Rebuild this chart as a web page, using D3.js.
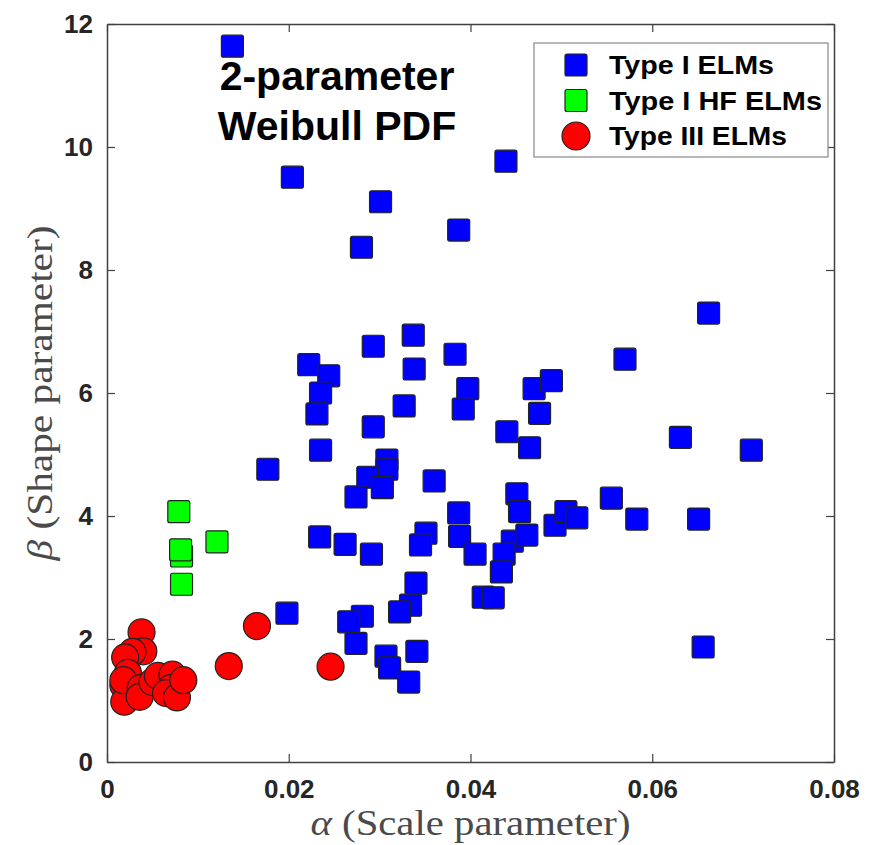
<!DOCTYPE html>
<html>
<head>
<meta charset="utf-8">
<script src="https://cdn.jsdelivr.net/npm/d3@7"></script>
<style>
  body { margin: 0; background: #fff; }
  svg { display: block; }
</style>
</head>
<body>
<svg id="chart"></svg>
<script>
// Type I ELMs
const typeIAlpha = [0.0138, 0.0204, 0.0301, 0.0280, 0.0439, 0.0387, 0.0662, 0.0337, 0.0222, 0.0293,
  0.0383, 0.0244, 0.0235, 0.0338, 0.0397, 0.0231, 0.0392, 0.0327, 0.0293, 0.0235,
  0.0177, 0.0440, 0.0470, 0.0489, 0.0476, 0.0465, 0.0570, 0.0631, 0.0709, 0.0308,
  0.0308, 0.0287, 0.0303, 0.0274, 0.0360, 0.0451, 0.0454, 0.0387, 0.0388, 0.0405,
  0.0351, 0.0345, 0.0446, 0.0437, 0.0462, 0.0434, 0.0234, 0.0262, 0.0291, 0.0340,
  0.0334, 0.0322, 0.0414, 0.0425, 0.0198, 0.0281, 0.0266, 0.0274, 0.0307, 0.0311,
  0.0341, 0.0332, 0.0656, 0.0493, 0.0505, 0.0517, 0.0555, 0.0583, 0.0651];
const typeIBeta = [11.64, 9.51, 9.11, 8.37, 9.77, 8.65, 7.30, 6.94, 6.46, 6.76,
  6.63, 6.28, 6.00, 6.39, 6.07, 5.66, 5.74, 5.79, 5.45, 5.07,
  4.76, 5.37, 6.07, 6.20, 5.67, 5.11, 6.55, 5.28, 5.07, 4.91,
  4.76, 4.63, 4.46, 4.31, 4.57, 4.36, 4.07, 4.05, 3.67, 3.38,
  3.72, 3.53, 3.59, 3.38, 3.69, 3.09, 3.66, 3.54, 3.38, 2.91,
  2.55, 2.44, 2.68, 2.67, 2.42, 2.37, 2.28, 1.93, 1.72, 1.53,
  1.80, 1.30, 1.87, 3.85, 4.07, 3.97, 4.29, 3.95, 3.95];

// Type I HF ELMs
const typeIHFAlpha = [0.0079, 0.0082, 0.0081, 0.0121, 0.0082];
const typeIHFBeta = [4.07, 3.35, 3.45, 3.58, 2.89];

// Type III ELMs
const typeIIIAlpha = [0.0165, 0.0134, 0.0246, 0.0038, 0.0040, 0.0028, 0.0020, 0.0023, 0.0018, 0.0019,
  0.0018, 0.0037, 0.0036, 0.0050, 0.0056, 0.0072, 0.0070, 0.0065, 0.0077, 0.0084];
const typeIIIBeta = [2.21, 1.56, 1.55, 2.11, 1.80, 1.79, 1.70, 1.45, 1.25, 0.98,
  1.33, 1.20, 1.06, 1.30, 1.40, 1.42, 1.20, 1.12, 1.05, 1.33];

const xTicks = [0, 0.02, 0.04, 0.06, 0.08];
const yTicks = [0, 2, 4, 6, 8, 10, 12];
const seriesNames = ["Type I ELMs", "Type I HF ELMs", "Type III ELMs"];

const width = 873, height = 845;
const margin = {top: 24, right: 39, bottom: 83, left: 107};

const svg = d3.select("#chart")
  .attr("width", width)
  .attr("height", height);

svg.append("rect").attr("width", width).attr("height", height).attr("fill", "#fff");

const x = d3.scaleLinear().domain([0, 0.08]).range([margin.left, width - margin.right]);
const y = d3.scaleLinear().domain([0, 12]).range([height - margin.bottom, margin.top]);

const axisColor = "#404040";
const tickFont = "'Liberation Sans', Arial, sans-serif";

// axes, MATLAB style: inward ticks, box on
const gx = svg.append("g")
  .attr("transform", `translate(0,${y(0)})`)
  .call(d3.axisBottom(x).tickValues(xTicks).tickSizeInner(-8).tickSizeOuter(0).tickPadding(18)
    .tickFormat(d => d === 0 ? "0" : d3.format(".2f")(d)));
const gxTop = svg.append("g")
  .attr("transform", `translate(0,${y(12)})`)
  .call(d3.axisTop(x).tickValues(xTicks).tickSizeInner(-8).tickSizeOuter(0).tickFormat(""));
const gy = svg.append("g")
  .attr("transform", `translate(${x(0)},0)`)
  .call(d3.axisLeft(y).tickValues(yTicks).tickSizeInner(-8).tickSizeOuter(0).tickPadding(14));
const gyRight = svg.append("g")
  .attr("transform", `translate(${x(0.08)},0)`)
  .call(d3.axisRight(y).tickValues(yTicks).tickSizeInner(-8).tickSizeOuter(0).tickFormat(""));

[gx, gxTop, gy, gyRight].forEach(g => {
  g.select(".domain").attr("stroke", axisColor).attr("stroke-width", 1.5);
  g.selectAll(".tick line").attr("stroke", axisColor).attr("stroke-width", 1.2);
  g.selectAll(".tick text")
    .attr("fill", "#262626")
    .style("font-family", tickFont)
    .style("font-weight", "bold")
    .style("font-size", "26px");
});
gx.selectAll(".tick text").attr("dy", "0.71em");

// axis labels
svg.append("text")
  .attr("x", (x(0) + x(0.08)) / 2)
  .attr("y", 835)
  .attr("text-anchor", "middle")
  .attr("fill", "#4a4a4a")
  .attr("textLength", 320)
  .attr("lengthAdjust", "spacingAndGlyphs")
  .style("font-family", "'Liberation Serif', 'DejaVu Serif', serif")
  .style("font-size", "35px")
  .html("<tspan font-style='italic'>α</tspan> (Scale parameter)");

svg.append("text")
  .attr("transform", `translate(52,${(y(0) + y(12)) / 2}) rotate(-90)`)
  .attr("text-anchor", "middle")
  .attr("fill", "#4a4a4a")
  .attr("textLength", 335)
  .attr("lengthAdjust", "spacingAndGlyphs")
  .style("font-family", "'Liberation Serif', 'DejaVu Serif', serif")
  .style("font-size", "35px")
  .html("<tspan font-style='italic'>β</tspan> (Shape parameter)");

// markers
const sq = 22;
function squares(xs, ys, color) {
  svg.append("g").selectAll("rect")
    .data(xs.map((d, i) => [d, ys[i]]))
    .join("rect")
    .attr("x", d => x(d[0]) - sq / 2)
    .attr("y", d => y(d[1]) - sq / 2)
    .attr("width", sq)
    .attr("height", sq)
    .attr("rx", 2)
    .attr("fill", color)
    .attr("stroke", "#222")
    .attr("stroke-width", 1.2);
}
squares(typeIAlpha, typeIBeta, "#0000ff");
squares(typeIHFAlpha, typeIHFBeta, "#00ff00");

svg.append("g").selectAll("circle")
  .data(typeIIIAlpha.map((d, i) => [d, typeIIIBeta[i]]))
  .join("circle")
  .attr("cx", d => x(d[0]))
  .attr("cy", d => y(d[1]))
  .attr("r", 13.5)
  .attr("fill", "#ff0000")
  .attr("stroke", "#222")
  .attr("stroke-width", 1.2);

// title inside plot
const title = svg.append("text")
  .attr("text-anchor", "middle")
  .style("font-family", tickFont)
  .style("font-weight", "bold")
  .style("font-size", "41px")
  .attr("fill", "#000");
title.append("tspan").attr("x", 337).attr("y", 90).text("2-parameter");
title.append("tspan").attr("x", 337).attr("y", 140).text("Weibull PDF");

// legend
const legend = svg.append("g");
legend.append("rect")
  .attr("x", 534).attr("y", 43).attr("width", 294).attr("height", 114)
  .attr("fill", "#fff").attr("stroke", "#888").attr("stroke-width", 1.2);

const legendColors = ["#0000ff", "#00ff00", "#ff0000"];
const legendLengths = [165, 213, 178];
const legendY = d3.scalePoint().domain(seriesNames).range([65, 136]);

seriesNames.forEach((name, i) => {
  const cy = legendY(name);
  if (i < 2) {
    legend.append("rect")
      .attr("x", 576 - 11).attr("y", cy - 11).attr("width", 22).attr("height", 22)
      .attr("rx", 2).attr("fill", legendColors[i]).attr("stroke", "#222").attr("stroke-width", 1.2);
  } else {
    legend.append("circle")
      .attr("cx", 576).attr("cy", cy).attr("r", 14)
      .attr("fill", legendColors[i]).attr("stroke", "#222").attr("stroke-width", 1.2);
  }
  legend.append("text")
    .attr("x", 609).attr("y", cy + 9)
    .attr("textLength", legendLengths[i])
    .attr("lengthAdjust", "spacingAndGlyphs")
    .style("font-family", tickFont)
    .style("font-weight", "bold")
    .style("font-size", "25px")
    .attr("fill", "#000")
    .text(name);
});
</script>
</body>
</html>
